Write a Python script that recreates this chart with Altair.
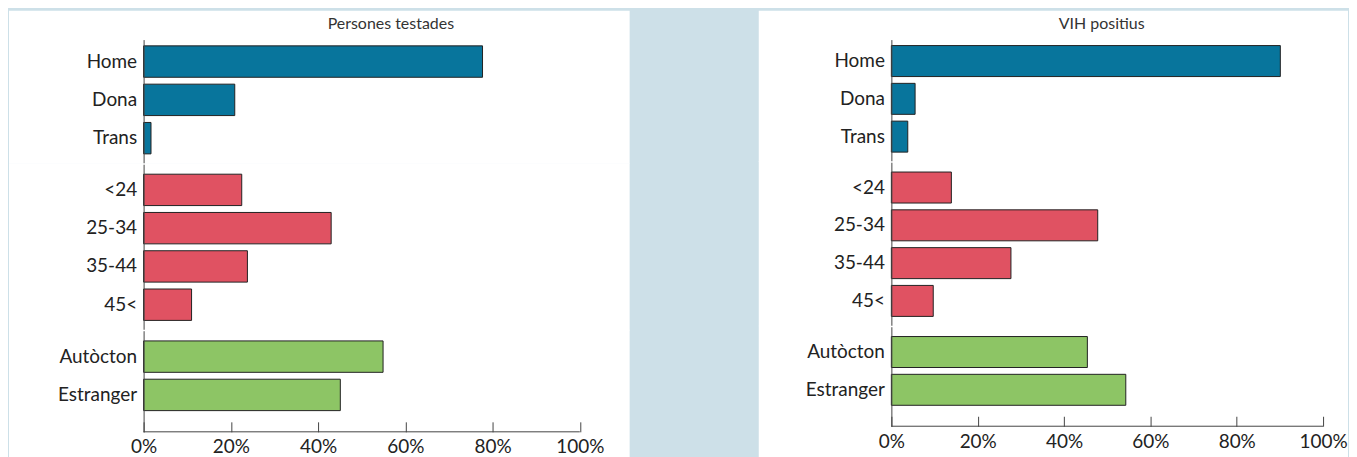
import altair as alt
import pandas as pd

# ---- data ----
cats_gender = ["Home", "Dona", "Trans"]
cats_age = ["<24", "25-34", "35-44", "45<"]
cats_origin = ["Autòcton", "Estranger"]

tested_gender = [77.7, 20.9, 1.7]
tested_age = [22.5, 43.0, 23.8, 11.0]
tested_origin = [54.9, 45.1]

positive_gender = [90.1, 5.5, 3.8]
positive_age = [13.9, 47.8, 27.7, 9.7]
positive_origin = [45.4, 54.3]

x_ticks = [0, 20, 40, 60, 80, 100]

titles = ["Persones testades", "VIH positius"]

# ---- style ----
BLUE = "#08759c"
RED = "#e05262"
GREEN = "#8dc565"
BG = "#cde0e8"
FONT = "Lato"
TXT = "#222222"
AXC = "#444444"
LFS = 19


def sub(cats, vals, color, W, H, po, align, rtop, rbottom, rleft, rright,
        title=None, title_dx=0, last=False):
    df = pd.DataFrame({"cat": cats, "val": vals})
    ysc = alt.Scale(domain=cats, paddingInner=0.18, paddingOuter=po, align=align)
    xsc = alt.Scale(domain=[0, 100], nice=False, zero=True)
    bg = alt.Chart(pd.DataFrame({"k": [0]})).mark_rect(color="white").encode(
        x=alt.value(rleft), x2=alt.value(W + rright),
        y=alt.value(rtop), y2=alt.value(H + rbottom))
    if last:
        xaxis = alt.Axis(values=x_ticks, labelExpr="datum.value + '%'", offset=-10,
                         tickSize=10, domain=False, grid=False, labelPadding=6,
                         labelFlush=False, labelFontSize=LFS, labelFont=FONT,
                         labelColor=TXT, tickColor=AXC, title=None, zindex=1)
    else:
        xaxis = None
    bars = alt.Chart(df).mark_bar(color=color, stroke="#222222", strokeWidth=1).encode(
        x=alt.X("val:Q", scale=xsc, axis=xaxis),
        y=alt.Y("cat:N", scale=ysc, sort=cats,
                axis=alt.Axis(title=None, ticks=False, domain=True, domainColor=AXC,
                              labelFontSize=LFS, labelFont=FONT, labelColor=TXT,
                              labelPadding=7, grid=False, zindex=1)))
    layers = [bg, bars]
    if last:
        layers.append(alt.Chart(pd.DataFrame({"k": [0]})).mark_rule(color=AXC).encode(
            x=alt.value(0), x2=alt.value(W), y=alt.value(H)))
    if title:
        layers.append(alt.Chart(pd.DataFrame({"k": [0]})).mark_text(
            text=title, font=FONT, fontSize=16, color="#333333",
            align="center", baseline="middle").encode(
            x=alt.value(title_dx), y=alt.value(-16)))
    return alt.layer(*layers).properties(width=W, height=H)


def panel(g, a, o, title, W, H1, H2, H3, p1, a1, p2, a2, p3, a3,
          rleft, rright, rbottom, title_dx):
    c1 = sub(cats_gender, g, BLUE, W, H1, p1, a1, -29, 0, rleft, rright,
             title=title, title_dx=title_dx)
    c2 = sub(cats_age, a, RED, W, H2, p2, a2, -1, 0, rleft, rright)
    c3 = sub(cats_origin, o, GREEN, W, H3, p3, a3, -1, rbottom, rleft, rright, last=True)
    return alt.vconcat(c1, c2, c3, spacing=0, bounds="flush").resolve_scale(
        x="independent", y="independent")


left = panel(tested_gender, tested_age, tested_origin, titles[0],
             437.5, 124.6, 166.9, 101.4, 0.212, 0.387, 0.264, 0.494, 0.41, 0.325,
             -135, 50, 30, 248)
right = panel(positive_gender, positive_age, positive_origin, titles[1],
              433, 122.7, 164.5, 99.8, 0.209, 0.379, 0.26, 0.5, 0.407, 0.319,
              -133, 25, 35, 211)

chart = alt.hconcat(left, right, spacing=128).configure(
    background=BG, padding={"left": 0, "top": 1, "right": 0, "bottom": 0}
).configure_view(stroke="transparent")

chart.save("out.html", embed_options={"renderer": "svg", "actions": False})
